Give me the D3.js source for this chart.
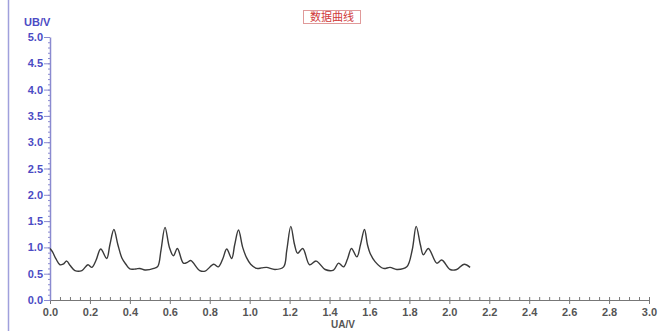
<!DOCTYPE html>
<html><head><meta charset="utf-8">
<script src="https://cdn.jsdelivr.net/npm/d3@7"></script>
<style>html,body{margin:0;padding:0;background:#fff;}svg{display:block;}</style>
</head><body>
<svg id="c" width="658" height="331"></svg>
<script>
const ua = [0.000,0.012,0.030,0.050,0.065,0.084,0.100,0.125,0.160,0.190,0.210,0.230,0.254,0.284,0.300,0.320,0.340,0.360,0.380,0.400,0.430,0.450,0.476,0.520,0.540,0.556,0.576,0.598,0.618,0.638,0.668,0.690,0.705,0.750,0.777,0.820,0.843,0.865,0.885,0.910,0.925,0.944,0.965,0.985,1.005,1.035,1.060,1.085,1.127,1.170,1.186,1.206,1.225,1.240,1.266,1.300,1.333,1.378,1.420,1.445,1.470,1.490,1.510,1.537,1.555,1.575,1.590,1.603,1.628,1.670,1.703,1.737,1.787,1.814,1.834,1.855,1.870,1.895,1.937,1.962,2.004,2.037,2.074,2.104];
const ub = [0.98,0.92,0.78,0.67,0.68,0.74,0.66,0.56,0.56,0.67,0.62,0.75,0.97,0.79,1.05,1.34,1.05,0.80,0.68,0.59,0.59,0.60,0.57,0.60,0.64,0.95,1.38,1.00,0.84,0.98,0.70,0.72,0.75,0.56,0.55,0.68,0.63,0.78,0.97,0.79,1.05,1.33,1.00,0.80,0.68,0.60,0.61,0.62,0.58,0.63,0.95,1.40,1.05,0.89,0.98,0.67,0.74,0.58,0.57,0.70,0.63,0.78,0.98,0.82,1.05,1.34,1.05,0.89,0.73,0.60,0.62,0.58,0.63,0.95,1.40,1.05,0.86,0.98,0.70,0.76,0.58,0.58,0.68,0.62];
const yTicks = [0,0.5,1,1.5,2,2.5,3,3.5,4,4.5,5];
const xTicks = [0,0.2,0.4,0.6,0.8,1.0,1.2,1.4,1.6,1.8,2.0,2.2,2.4,2.6,2.8,3.0];
const title = "数据曲线", xLabel = "UA/V", yLabel = "UB/V";

const svg = d3.select("#c");
const x = d3.scaleLinear().domain([0,3]).range([50,649]);
const y = d3.scaleLinear().domain([0,5]).range([300,37]);
const font = "'Liberation Sans', Arial, sans-serif";

// left frame line
svg.append("line").attr("x1",8.5).attr("x2",8.5).attr("y1",0).attr("y2",331)
  .attr("stroke","#a0a0dc").attr("stroke-width",1.5);

// title
const tg = svg.append("g");
tg.append("rect").attr("x",303.5).attr("y",10.5).attr("width",57).attr("height",13)
  .attr("fill","#fff").attr("stroke","#e09a9a").attr("stroke-width",1);
tg.append("text").attr("x",332).attr("y",21).attr("text-anchor","middle")
  .attr("font-family","'Noto Sans CJK SC', sans-serif").attr("font-size",11)
  .attr("fill","#d03a3a").text(title);

// x axis
const xMinor = d3.range(0,3.0001,0.05);
const gxm = svg.append("g").attr("transform","translate(0,300)")
  .call(d3.axisTop(x).tickValues(xMinor).tickSize(3).tickFormat(""));
const gx = svg.append("g").attr("transform","translate(0,300)")
  .call(d3.axisBottom(x).tickValues(xTicks).tickSize(4).tickSizeOuter(0).tickFormat(d3.format(".1f")));
[gxm,gx].forEach(g=>{g.selectAll("path,line").attr("stroke","#777");});
gxm.select(".domain").remove();
gx.selectAll("text").attr("font-family",font).attr("font-size",11).attr("font-weight","bold")
  .attr("fill","#555").attr("dy","0.85em");

// y axis
const yMinor = d3.range(0,5.0001,0.1);
const gym = svg.append("g").attr("transform","translate(50,0)")
  .call(d3.axisLeft(y).tickValues(yMinor).tickSize(2).tickFormat(""));
gym.select(".domain").remove();
gym.selectAll("line").attr("stroke","#8a8ad0");
const gy = svg.append("g").attr("transform","translate(50,0)")
  .call(d3.axisLeft(y).tickValues(yTicks).tickSize(6).tickSizeOuter(0).tickFormat(d3.format(".1f")));
gy.select(".domain").attr("stroke","#8a8ad0").attr("stroke-width",1.5);
gy.selectAll("line").attr("stroke","#8a8ad0");
gy.selectAll("text").attr("font-family",font).attr("font-size",11).attr("font-weight","bold")
  .attr("fill","#4b4bc4").attr("x",-7);

// axis labels
svg.append("text").attr("x",24).attr("y",26).attr("font-family",font).attr("font-size",11)
  .attr("font-weight","bold").attr("fill","#4b4bc4").text(yLabel);
svg.append("text").attr("x",343).attr("y",328).attr("text-anchor","middle").attr("font-family",font)
  .attr("font-size",10).attr("font-weight","bold").attr("fill","#555").text(xLabel);

// curve
const pts = ua.map((d,i)=>[d,ub[i]]);
svg.append("path").datum(pts)
  .attr("d", d3.line().x(d=>x(d[0])).y(d=>y(d[1])).curve(d3.curveCatmullRom.alpha(0.5)))
  .attr("fill","none").attr("stroke","#3a3a3a").attr("stroke-width",1.4);
</script>
</body></html>
